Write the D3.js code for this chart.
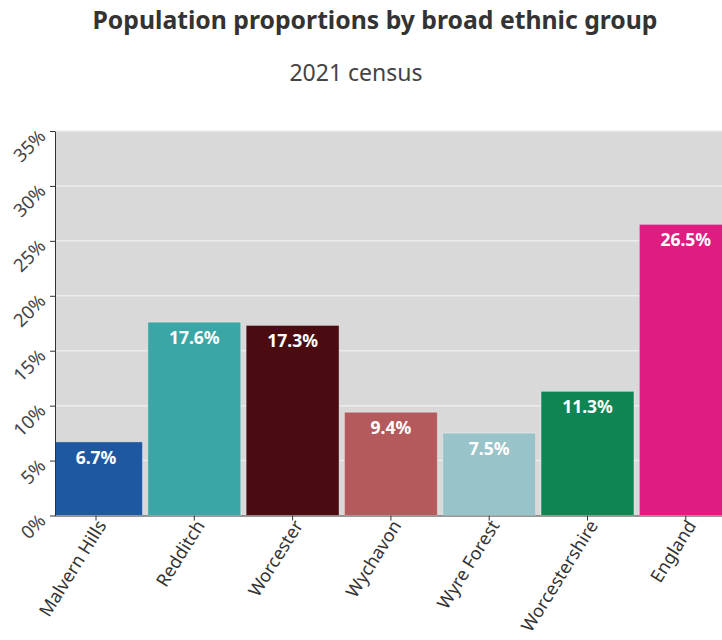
<!DOCTYPE html>
<html><head><meta charset="utf-8">
<script src="https://cdn.jsdelivr.net/npm/d3@7"></script>
<style>
body{margin:0;background:#fff;}
svg{display:block;font-family:"Noto Sans",sans-serif;}
</style></head>
<body><svg id="c" width="722" height="640"></svg>
<script>
const categories = ["Malvern Hills","Redditch","Worcester","Wychavon","Wyre Forest","Worcestershire","England"];
const values = [6.7, 17.6, 17.3, 9.4, 7.5, 11.3, 26.5];
const colors = ["#1d58a0","#3aa6a5","#4a0c11","#b45a5d","#98c3c9","#0f8553","#df1c80"];
const yTicks = [0,5,10,15,20,25,30,35];

const svg = d3.select("#c");
const plotL = 55, plotR = 722, plotT = 131, plotB = 515.5;

const x = d3.scaleBand().domain(categories).range([46.85, 734.95]).paddingInner(0.055).paddingOuter(0.0275);
const y = d3.scaleLinear().domain([0,35]).range([plotB, plotT]);

svg.append("text").attr("x",375).attr("y",29).attr("text-anchor","middle")
  .attr("font-size",24.5).attr("font-weight","bold").attr("fill","#333")
  .attr("textLength",565).attr("lengthAdjust","spacingAndGlyphs")
  .text("Population proportions by broad ethnic group");
svg.append("text").attr("x",356).attr("y",81).attr("text-anchor","middle")
  .attr("font-size",23).attr("fill","#444").text("2021 census");

svg.append("defs").append("clipPath").attr("id","clip").append("rect")
  .attr("x",plotL).attr("y",plotT-1).attr("width",plotR-plotL+20).attr("height",plotB-plotT+1);

svg.append("rect").attr("x",plotL).attr("y",plotT).attr("width",plotR-plotL).attr("height",plotB-plotT).attr("fill","#d9d9d9");

svg.append("g").selectAll("line").data(yTicks.slice(1)).join("line")
  .attr("x1",plotL).attr("x2",plotR).attr("y1",d=>y(d)).attr("y2",d=>y(d))
  .attr("stroke","#ececec").attr("stroke-width",1.5);

// bottom axis
const xa = svg.append("g").attr("transform",`translate(0,${plotB})`)
  .call(d3.axisBottom(x).tickSize(5).tickSizeOuter(0));
xa.select(".domain").attr("stroke","#333").attr("d",`M${plotL},0.5H${plotR}`);
xa.selectAll(".tick line").attr("stroke","#333");
xa.selectAll(".tick text").attr("font-size",18).attr("fill","#333").attr("font-family","Noto Sans")
  .attr("text-anchor","end").attr("dx","0.2em").attr("dy","0.4em")
  .attr("transform","translate(3,9) rotate(-58)").attr("y",0).attr("x",0);

const g = svg.append("g").attr("clip-path","url(#clip)");
g.selectAll("rect").data(values).join("rect")
  .attr("x",(d,i)=>x(categories[i])).attr("width",x.bandwidth())
  .attr("y",d=>y(d)).attr("height",d=>plotB-y(d))
  .attr("fill",(d,i)=>colors[i]).attr("stroke","rgba(255,255,255,0.35)").attr("stroke-width",1);

svg.append("g").selectAll("text").data(values).join("text")
  .attr("x",(d,i)=>x(categories[i])+x.bandwidth()/2)
  .attr("y",d=>y(d)+22).attr("text-anchor","middle")
  .attr("font-size",17.5).attr("font-weight","bold").attr("fill","#fff")
  .text(d=>d.toFixed(1)+"%");

// left axis
const ya = svg.append("g").attr("transform",`translate(${plotL},0)`)
  .call(d3.axisLeft(y).tickValues(yTicks).tickFormat(d=>d+"%").tickSize(5).tickSizeOuter(0));
ya.select(".domain").attr("stroke","#333");
ya.selectAll(".tick line").attr("stroke","#333");
ya.selectAll(".tick text").attr("font-size",18.5).attr("fill","#444").attr("font-family","Noto Sans")
  .attr("text-anchor","end").attr("x",0).attr("dy",0)
  .attr("transform","translate(-8,6) rotate(-45)");
</script></body></html>
